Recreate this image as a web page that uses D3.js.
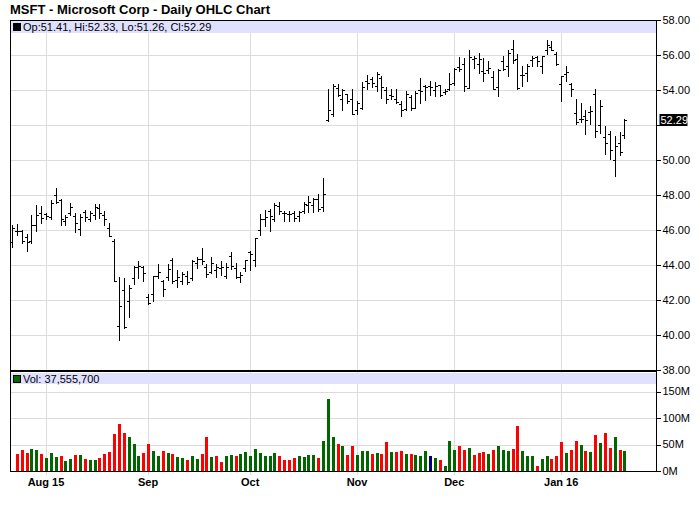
<!DOCTYPE html>
<html><head><meta charset="utf-8">
<script src="https://cdn.jsdelivr.net/npm/d3@7"></script>
<style>
body{margin:0;background:#fff;}
svg{display:block;font-family:"Liberation Sans",Arial,sans-serif;}
</style>
</head><body>
<svg id="chart" width="700" height="512"></svg>
<script>
// ---------------- DATA ----------------
const title = "MSFT - Microsoft Corp - Daily OHLC Chart";
const dates = [
"2015-07-23","2015-07-24","2015-07-27","2015-07-28","2015-07-29","2015-07-30","2015-07-31",
"2015-08-03","2015-08-04","2015-08-05","2015-08-06","2015-08-07","2015-08-10","2015-08-11","2015-08-12","2015-08-13","2015-08-14",
"2015-08-17","2015-08-18","2015-08-19","2015-08-20","2015-08-21","2015-08-24","2015-08-25","2015-08-26","2015-08-27","2015-08-28","2015-08-31",
"2015-09-01","2015-09-02","2015-09-03","2015-09-04","2015-09-08","2015-09-09","2015-09-10","2015-09-11","2015-09-14","2015-09-15",
"2015-09-16","2015-09-17","2015-09-18","2015-09-21","2015-09-22","2015-09-23","2015-09-24","2015-09-25","2015-09-28","2015-09-29","2015-09-30",
"2015-10-01","2015-10-02","2015-10-05","2015-10-06","2015-10-07","2015-10-08","2015-10-09","2015-10-12","2015-10-13","2015-10-14","2015-10-15",
"2015-10-16","2015-10-19","2015-10-20","2015-10-21","2015-10-22","2015-10-23","2015-10-26","2015-10-27","2015-10-28","2015-10-29","2015-10-30",
"2015-11-02","2015-11-03","2015-11-04","2015-11-05","2015-11-06","2015-11-09","2015-11-10","2015-11-11","2015-11-12","2015-11-13",
"2015-11-16","2015-11-17","2015-11-18","2015-11-19","2015-11-20","2015-11-23","2015-11-24","2015-11-25","2015-11-27","2015-11-30",
"2015-12-01","2015-12-02","2015-12-03","2015-12-04","2015-12-07","2015-12-08","2015-12-09","2015-12-10","2015-12-11","2015-12-14","2015-12-15",
"2015-12-16","2015-12-17","2015-12-18","2015-12-21","2015-12-22","2015-12-23","2015-12-24","2015-12-28","2015-12-29","2015-12-30","2015-12-31",
"2016-01-04","2016-01-05","2016-01-06","2016-01-07","2016-01-08","2016-01-11","2016-01-12","2016-01-13","2016-01-14","2016-01-15",
"2016-01-19","2016-01-20","2016-01-21","2016-01-22"
];
const open = [
45.30,45.95,45.95,45.60,45.35,46.30,47.00,46.90,46.75,48.00,
47.70,46.50,47.00,46.80,46.05,47.05,46.60,46.85,47.25,46.85,
46.10,45.35,40.50,42.57,41.95,43.26,43.90,43.90,42.17,42.37,
43.40,43.10,43.30,44.30,43.17,43.10,43.39,43.25,44.10,44.35,
43.90,43.60,43.70,43.85,43.40,44.50,43.85,43.30,43.85,44.75,
44.27,46.00,46.65,47.10,46.60,47.36,46.95,46.94,46.96,46.78,
47.07,47.42,47.42,47.77,47.34,52.30,52.60,54.10,53.50,53.75,
53.50,52.85,52.95,54.50,54.60,54.20,54.70,54.00,53.70,53.50,
53.20,52.90,53.60,53.00,53.99,54.25,54.23,54.00,54.28,53.88,
54.07,54.41,55.32,55.49,54.12,55.79,55.47,55.10,55.15,54.77,
54.19,55.66,55.39,56.36,55.77,54.88,54.99,55.70,55.86,55.35,
56.29,56.47,56.04,54.32,54.93,54.32,52.70,52.37,52.51,52.76,
53.80,52.00,51.31,51.48,49.98,51.00,51.41
];
const high = [
46.30,46.37,46.02,45.75,46.85,47.42,47.38,47.00,47.72,48.41,
47.75,46.84,47.53,46.96,46.92,47.12,47.11,47.46,47.46,47.10,
46.40,45.50,43.30,43.26,42.88,43.97,44.20,43.97,42.35,43.36,
44.05,43.17,44.03,44.40,43.74,43.59,43.65,44.30,44.45,44.98,
44.03,44.45,44.08,44.20,44.10,44.73,44.10,43.59,44.31,44.79,
45.57,46.89,47.17,47.20,47.55,47.58,47.10,47.10,47.10,47.07,
47.58,47.93,47.84,48.03,48.98,54.07,54.37,54.37,54.03,53.80,
54.03,53.40,54.47,54.87,54.73,55.02,54.79,54.18,54.03,54.03,
53.36,53.93,53.74,53.93,54.70,54.31,54.50,54.45,54.30,54.07,
55.00,55.27,55.90,55.85,56.26,55.97,56.12,55.84,55.65,55.08,
55.20,55.93,56.27,56.83,56.03,55.36,55.51,55.93,55.97,55.97,
56.88,56.79,56.16,54.80,55.39,54.40,53.49,53.28,52.85,53.10,
54.07,53.42,51.97,51.68,51.38,51.58,52.33
];
const low = [
45.05,45.72,45.25,44.78,45.25,45.92,46.42,46.64,46.60,47.54,
46.30,46.30,46.88,45.90,45.72,46.50,46.50,46.60,46.66,46.31,
45.65,43.07,39.72,40.39,41.05,42.94,43.26,43.07,41.78,41.93,
43.26,42.22,43.17,42.98,42.75,42.89,42.89,43.17,43.84,44.03,
43.33,43.55,43.33,43.45,43.27,43.78,43.27,43.02,43.64,43.74,
43.94,45.74,46.22,45.92,46.50,46.89,46.50,46.50,46.50,46.50,
46.98,47.02,47.02,47.07,47.07,52.25,52.54,53.65,52.88,53.27,
52.60,52.60,52.92,54.03,54.18,53.93,53.55,53.27,53.46,53.23,
52.50,52.88,52.88,52.98,53.27,53.45,53.74,53.65,53.67,53.80,
54.00,54.30,55.08,53.95,54.10,55.27,54.98,54.50,55.00,54.03,
53.65,55.13,54.79,55.55,54.07,54.22,54.50,55.40,55.40,54.98,
56.08,56.27,55.42,53.39,54.54,53.64,52.07,52.15,51.46,52.06,
51.30,51.57,50.34,50.06,49.10,50.30,51.26
];
const close = [
46.11,45.94,45.35,45.34,46.29,46.88,46.70,46.81,47.54,47.58,
46.62,46.74,47.33,46.41,46.74,46.73,47.00,47.32,46.95,46.61,
45.66,43.07,41.68,40.47,42.71,43.90,43.93,43.52,41.82,43.36,
43.60,42.61,43.80,43.07,43.29,43.48,43.04,44.20,44.35,44.25,
43.48,44.11,43.90,43.87,43.91,43.94,43.29,43.44,44.26,44.61,
45.57,46.63,46.75,46.80,47.45,47.11,47.00,46.89,46.68,47.01,
47.51,47.62,47.77,47.20,48.03,52.87,54.25,53.69,53.98,53.36,
52.64,53.24,54.15,54.40,54.38,54.92,54.16,53.51,53.65,53.32,
52.84,53.77,52.97,53.85,53.94,54.19,54.19,54.25,53.69,53.93,
54.35,55.22,55.21,54.20,55.91,55.81,55.79,54.98,55.27,54.06,
55.14,55.20,56.13,55.70,54.13,54.83,55.35,55.82,55.67,55.95,
56.55,56.31,55.48,54.80,55.05,54.05,52.17,52.33,52.30,52.78,
51.64,53.11,50.99,50.56,50.79,50.48,52.29
];
// volume in millions (first day has no prior close, no bar shown)
const volume = [
null,32.2,39.8,34.1,41.7,39.8,32.2,24.6,34.1,26.5,
28.4,18.9,22.7,30.3,30.3,22.7,20.8,20.8,24.6,32.2,
36.0,70.1,89.0,72.0,64.4,51.1,28.4,34.1,51.1,37.9,
28.4,37.9,34.1,32.2,26.5,24.6,21.0,28.4,22.7,32.2,
64.4,26.5,28.4,17.0,28.4,30.3,28.4,32.2,36.0,28.4,
41.7,34.1,28.4,28.4,34.1,28.4,20.8,20.8,24.6,28.4,
26.5,30.3,30.3,24.6,56.8,136.4,64.4,51.1,47.3,30.3,
47.3,30.3,37.9,37.9,32.2,34.1,32.2,54.9,36.0,36.0,
37.9,32.2,32.2,30.3,28.4,37.9,28.4,24.6,20.8,9.5,
56.8,39.8,47.3,39.8,43.6,30.3,34.1,36.0,32.2,39.8,
47.3,39.8,37.9,41.7,85.2,37.9,28.4,28.4,9.5,22.7,
28.4,22.7,28.4,54.9,34.1,39.8,56.8,49.2,37.9,36.0,
68.2,53.0,72.0,43.6,64.4,39.8,37.5557
];
const monthTickDates  = ["2015-08-03","2015-09-01","2015-10-01","2015-11-02","2015-12-01","2016-01-04"];
const monthTickLabels = ["Aug 15","Sep","Oct","Nov","Dec","Jan 16"];
const priceTicks = [38,40,42,44,46,48,50,52,54,56,58];
const volumeTicks = [0,50,100,150];
const volumeTickLabels = ["0M","50M","100M","150M"];

// ---------------- LAYOUT ----------------
const L = 10, R = 656;
const pTop = 20, pBot = 370;
const vTop = 372, vBot = 471;
const UP = "#006600", DOWN = "#ff0000", FLAT = "#000080";
const BAND = "#e0e0ff", GRID = "#dcdcdc";

const svg = d3.select("#chart");
const x = d3.scalePoint().domain(dates).range([12, 624.36]);
const yP = d3.scaleLinear().domain([38, 58]).range([pBot, pTop]);
const yV = d3.scaleLinear().domain([0, 150]).range([vBot, 391.5]);
const cx = d => Math.round(x(d)) + 0.5;

const data = dates.map((d, i) => ({date: d, o: open[i], h: high[i], l: low[i], c: close[i], v: volume[i],
  col: i === 0 ? null : (close[i] > close[i-1] ? UP : (close[i] < close[i-1] ? DOWN : FLAT))}));

// title
svg.append("text").attr("x", 10).attr("y", 14).attr("font-size", 13).attr("font-weight", "bold")
  .attr("fill", "#000").text(title);

// gridlines
const g = svg.append("g").attr("shape-rendering", "crispEdges");
g.selectAll("line.hp").data(priceTicks.filter(t => t > 38 && t < 58)).join("line")
  .attr("x1", L).attr("x2", R).attr("y1", d => Math.round(yP(d)) + 0.5).attr("y2", d => Math.round(yP(d)) + 0.5)
  .attr("stroke", GRID);
g.selectAll("line.hv").data(volumeTicks.filter(t => t > 0)).join("line").attr("class", "hv")
  .attr("x1", L).attr("x2", R).attr("y1", d => Math.round(yV(d)) + 0.5).attr("y2", d => Math.round(yV(d)) + 0.5)
  .attr("stroke", GRID);
g.selectAll("line.vm").data(monthTickDates).join("line").attr("class", "vm")
  .attr("x1", d => cx(d)).attr("x2", d => cx(d)).attr("y1", pTop).attr("y2", vBot + 4)
  .attr("stroke", GRID);

// legend bands
svg.append("rect").attr("x", L).attr("y", pTop + 1).attr("width", R - L).attr("height", 12).attr("fill", BAND);
svg.append("rect").attr("x", L).attr("y", vTop + 1).attr("width", R - L).attr("height", 11).attr("fill", BAND);

// OHLC bars
const last = data[data.length - 1];
svg.append("g").attr("shape-rendering", "crispEdges")
  .selectAll("path").data(data).join("path")
  .attr("fill", "none").attr("stroke", "#000").attr("stroke-width", 1)
  .attr("d", d => {
    const X = cx(d.date);
    const yo = Math.round(yP(d.o)) + 0.5, yc = Math.round(yP(d.c)) + 0.5;
    return `M${X},${Math.round(yP(d.h))}V${Math.round(yP(d.l)) + 1}M${X - 2.5},${yo}H${X}M${X},${yc}H${X + 2.5}`;
  });

// volume bars
svg.append("g").attr("shape-rendering", "crispEdges")
  .selectAll("rect").data(data.filter(d => d.v != null)).join("rect")
  .attr("x", d => Math.round(x(d.date)) - 1).attr("width", 3)
  .attr("y", d => yV(d.v)).attr("height", d => yV(0) - yV(d.v))
  .attr("fill", d => d.col);

// frame
const f = svg.append("g").attr("shape-rendering", "crispEdges").attr("stroke", "#000");
f.append("line").attr("x1", L).attr("x2", R).attr("y1", pTop + 0.5).attr("y2", pTop + 0.5);
f.append("line").attr("x1", L + 0.5).attr("x2", L + 0.5).attr("y1", pTop).attr("y2", vBot);
f.append("line").attr("x1", R + 0.5).attr("x2", R + 0.5).attr("y1", pTop).attr("y2", vBot + 1);
f.append("line").attr("x1", L).attr("x2", R + 1).attr("y1", pBot + 1).attr("y2", pBot + 1).attr("stroke-width", 2);
f.append("line").attr("x1", L).attr("x2", R + 1).attr("y1", vBot + 0.5).attr("y2", vBot + 0.5);

// legends
const lastFmt = d3.format(".2f");
svg.append("rect").attr("x", 13.5).attr("y", 23.5).attr("width", 7).attr("height", 7).attr("fill", "#000").attr("stroke", "#000");
svg.append("text").attr("x", 23).attr("y", 31).attr("font-size", 11).attr("fill", "#000")
  .text(`Op:${lastFmt(last.o)}, Hi:${lastFmt(last.h)}, Lo:${lastFmt(last.l)}, Cl:${lastFmt(last.c)}`);
svg.append("rect").attr("x", 13.5).attr("y", 375.5).attr("width", 7).attr("height", 7).attr("fill", last.col).attr("stroke", "#000");
svg.append("text").attr("x", 23).attr("y", 383).attr("font-size", 11).attr("fill", "#000")
  .text(`Vol: ${d3.format(",")(Math.round(last.v * 1e6))}`);

// right price axis
const ax = svg.append("g").attr("transform", `translate(${R + 0.5},0)`);
const lastY = yP(last.c);
ax.selectAll("line.t").data(priceTicks).join("line").attr("class", "t").attr("shape-rendering", "crispEdges")
  .attr("x1", 0).attr("x2", 4).attr("y1", d => Math.round(yP(d)) + 0.5).attr("y2", d => Math.round(yP(d)) + 0.5).attr("stroke", "#000");
ax.selectAll("text.t").data(priceTicks.filter(t => Math.abs(yP(t) - lastY) > 10)).join("text").attr("class", "t")
  .attr("x", 6).attr("y", d => yP(d)).attr("dy", "0.35em").attr("font-size", 11).attr("fill", "#000")
  .text(d => d3.format(".2f")(d));
ax.append("rect").attr("x", 3).attr("y", Math.round(lastY) - 6).attr("width", 28).attr("height", 12).attr("fill", "#000");
ax.append("text").attr("x", 4).attr("y", lastY).attr("dy", "0.35em").attr("font-size", 11).attr("fill", "#fff")
  .text(lastFmt(last.c));

// right volume axis
ax.selectAll("line.v").data(volumeTicks).join("line").attr("class", "v").attr("shape-rendering", "crispEdges")
  .attr("x1", 0).attr("x2", 4).attr("y1", d => Math.round(yV(d)) + 0.5).attr("y2", d => Math.round(yV(d)) + 0.5).attr("stroke", "#000");
ax.selectAll("text.v").data(volumeTicks).join("text").attr("class", "v")
  .attr("x", 6).attr("y", d => yV(d)).attr("dy", "0.35em").attr("font-size", 11).attr("fill", "#000")
  .text((d, i) => volumeTickLabels[i]);

// bottom date labels
svg.selectAll("text.m").data(monthTickDates).join("text").attr("class", "m")
  .attr("x", d => x(d)).attr("y", 486).attr("text-anchor", "middle")
  .attr("font-size", 11).attr("font-weight", "bold").attr("fill", "#000")
  .text((d, i) => monthTickLabels[i]);
</script>
</body></html>
